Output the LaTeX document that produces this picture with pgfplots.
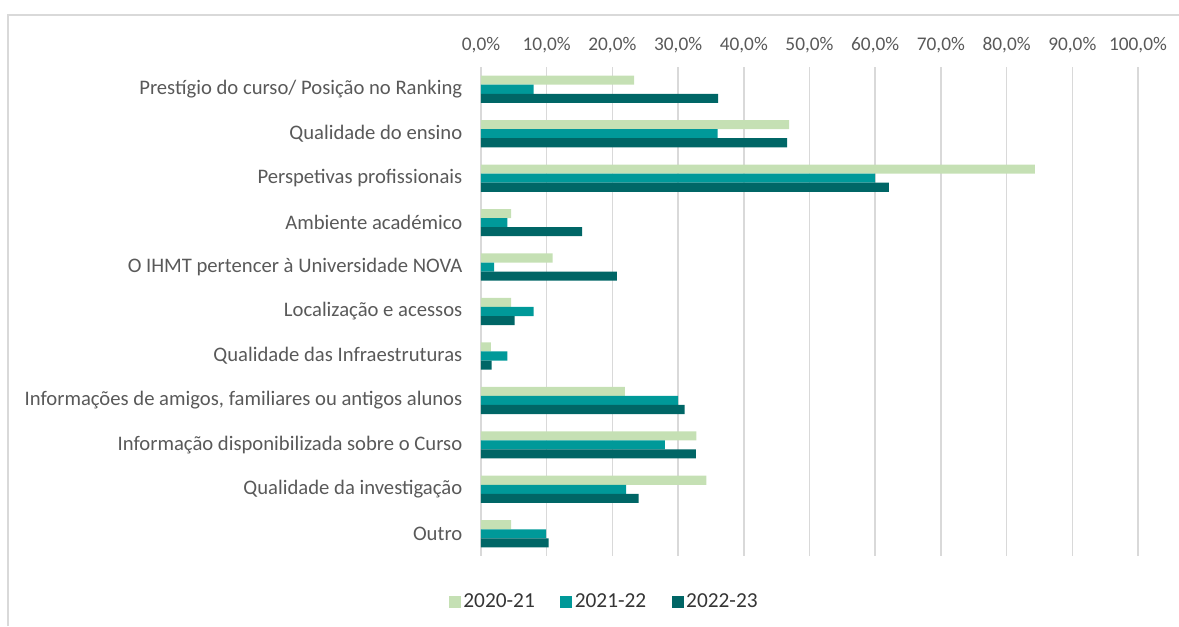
\documentclass[border=0pt]{standalone}
\usepackage{pgfplots}
\pgfplotsset{compat=1.18}
\usepackage{fontspec}
\setmainfont{Carlito}
\definecolor{cA}{RGB}{197,224,180}
\definecolor{cB}{RGB}{0,153,153}
\definecolor{cC}{RGB}{0,102,102}
\definecolor{txt}{RGB}{89,89,89}
\definecolor{grd}{RGB}{217,217,217}

\begin{document}
\begin{tikzpicture}
% frame of the whole picture: 1179 x 626 px at 0.75pt per px
\useasboundingbox (0,0) rectangle (884.25pt,-469.5pt);
\draw[grd, line width=1.2pt] (6pt,-469.5pt) -- (6pt,-11.25pt) -- (884.25pt,-11.25pt);
\begin{axis}[
    at={(360.75pt,-417pt)}, anchor=south west,
    scale only axis, width=492.75pt, height=366.75pt,
    xbar, bar width=6.8pt,
    xmin=0, xmax=100,
    ymin=-0.5, ymax=10.5, y dir=reverse,
    axis line style={draw=none},
    xtick={0,10,...,100},
    xticklabel pos=right,
    /pgf/number format/assume math mode=true,
    xticklabel={\pgfmathprintnumber[fixed,fixed zerofill,precision=1,use comma]{\tick}\%},
    xticklabel style={text=txt, font=\fontsize{14.5}{16}\selectfont, yshift=7pt},
    ytick={0,...,10},
    yticklabels={Prestígio do curso/ Posição no Ranking, Qualidade do ensino,
        Perspetivas profissionais, Ambiente académico,
        O IHMT pertencer à Universidade NOVA, Localização e acessos,
        Qualidade das Infraestruturas,
        {Informações de amigos, familiares ou antigos alunos},
        Informação disponibilizada sobre o Curso, Qualidade da investigação, Outro},
    yticklabel style={text=txt, font=\fontsize{15.5}{17}\selectfont, xshift=-10.5pt},
    major tick length=0pt,
    xmajorgrids, grid style={grd, line width=1.2pt},
    legend style={at={(0.188,-0.094)}, anchor=center, draw=none,
        legend columns=3, font=\fontsize{16}{18}\selectfont, text=txt!60!black,
        /tikz/every even column/.append style={column sep=17pt}},
    legend image code/.code={\fill[#1] (0pt,-4.5pt) rectangle (9pt,4.5pt);},
]
\addplot[fill=cA, draw=none, bar shift=6.8pt] coordinates {
    (23.3,0) (46.9,1) (84.3,2) (4.6,3) (10.9,4) (4.6,5) (1.5,6)
    (21.9,7) (32.8,8) (34.3,9) (4.6,10)
};
\addlegendentry{2020-21}
\addplot[fill=cB, draw=none, bar shift=0pt] coordinates {
    (8.0,0) (36.0,1) (60.0,2) (4.0,3) (2.0,4) (8.0,5) (4.0,6)
    (30.0,7) (28.0,8) (22.1,9) (9.9,10)
};
\addlegendentry{2021-22}
\addplot[fill=cC, draw=none, bar shift=-6.8pt] coordinates {
    (36.1,0) (46.6,1) (62.1,2) (15.4,3) (20.7,4) (5.1,5) (1.6,6)
    (31.0,7) (32.7,8) (24.0,9) (10.3,10)
};
\addlegendentry{2022-23}
\end{axis}
\end{tikzpicture}
\end{document}
